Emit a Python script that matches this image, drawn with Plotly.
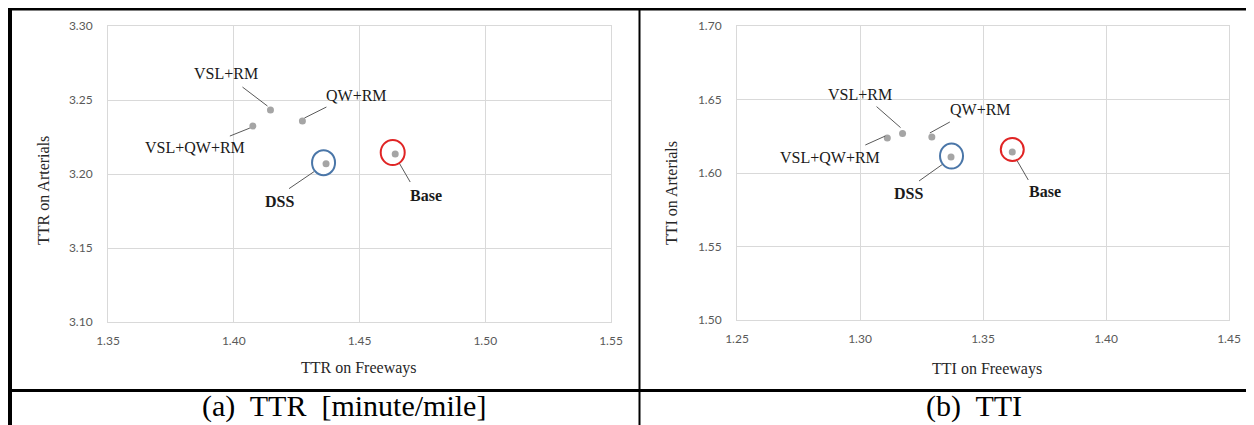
import plotly.graph_objects as go

# target screenshot size and the page's default body margin
W, H = 1254, 425
OX, OY = 8, 8
FW, FH = W - OX, H - OY   # figure size so that it fits the window exactly

# ---------------- data ----------------
scenarios = ["VSL+RM", "QW+RM", "VSL+QW+RM", "DSS", "Base"]
ttr_freeways = [1.4146, 1.4273, 1.4076, 1.4367, 1.4642]
ttr_arterials = [3.2432, 3.2358, 3.2324, 3.2070, 3.2135]
tti_freeways = [1.3173, 1.3292, 1.3111, 1.3370, 1.3619]
tti_arterials = [1.6268, 1.6245, 1.6238, 1.6109, 1.6143]

x_ticks_a = [1.35, 1.40, 1.45, 1.50, 1.55]
y_ticks_a = [3.10, 3.15, 3.20, 3.25, 3.30]
x_ticks_b = [1.25, 1.30, 1.35, 1.40, 1.45]
y_ticks_b = [1.50, 1.55, 1.60, 1.65, 1.70]

bold_labels = ["DSS", "Base"]

# ---------------- styling / layout (pixel offsets, screen y-down) ----------------
SERIF = "Liberation Serif, Times New Roman, serif"
TICKFONT = dict(family="Lato, Open Sans, sans-serif", size=12, color="#595959")
GRID = "#d9d9d9"

panels = [
    dict(xs=ttr_freeways, ys=ttr_arterials, xt=x_ticks_a, yt=y_ticks_a,
         dom=(108, 611, 26, 322), xtitle="TTR on Freeways", xtitle_pos=(359, 368),
         ytitle="TTR on Arterials", ytitle_pos=(44, 191),
         caption="(a)  TTR  [minute/mile]", caption_x=344,
         label_off={"VSL+RM": (-44, -37), "QW+RM": (54, -26), "VSL+QW+RM": (-58, 21),
                    "DSS": (-47, 38), "Base": (31, 41)},
         line_off={"VSL+RM": (-28, -23, -3, -4), "QW+RM": (24, -14, 2, -3),
                   "VSL+QW+RM": (-23, 10, -3, 2), "DSS": (-37, 25, -12, 8),
                   "Base": (15, 28, 4, 9)},
         circles={"DSS": (-2.5, -1, 11.5, 12.5, "#4a76a8"),
                  "Base": (-2.5, -1.5, 12, 12.5, "#e02424")}),
    dict(xs=tti_freeways, ys=tti_arterials, xt=x_ticks_b, yt=y_ticks_b,
         dom=(737, 1229, 26, 320), xtitle="TTI on Freeways", xtitle_pos=(987, 369),
         ytitle="TTI on Arterials", ytitle_pos=(671, 193),
         caption="(b)  TTI", caption_x=974,
         label_off={"VSL+RM": (-43, -39), "QW+RM": (49, -27), "VSL+QW+RM": (-57, 19),
                    "DSS": (-43, 37), "Base": (33, 40)},
         line_off={"VSL+RM": (-26, -27, -2, -6), "QW+RM": (18, -15, -2, -4),
                   "VSL+QW+RM": (-22, 7, -2, -2), "DSS": (-32, 24, -8, 7),
                   "Base": (16, 28, 5, 9)},
         circles={"DSS": (0.5, -1, 11.5, 12.5, "#4a76a8"),
                  "Base": (0, -2.5, 11.5, 11.5, "#e02424")}),
]


def px(x):
    return (x - OX) / FW


def py(y):
    return 1 - (y - OY) / FH


fig = go.Figure()
shapes = []
annotations = []

for i, p in enumerate(panels, start=1):
    xa = "x" if i == 1 else f"x{i}"
    ya = "y" if i == 1 else f"y{i}"
    fig.add_trace(go.Scatter(
        x=p["xs"], y=p["ys"], mode="markers", xaxis=xa, yaxis=ya,
        marker=dict(color="#a5a5a5", size=7), showlegend=False,
        text=scenarios, hoverinfo="text+x+y"))

    l, r, t, b = p["dom"]
    axkw = dict(showgrid=True, gridcolor=GRID, gridwidth=1, zeroline=False,
                showline=True, mirror=True, linecolor=GRID, linewidth=1,
                ticks="", tickfont=TICKFONT, tickformat=".2f", automargin=False)
    xname = "xaxis" if i == 1 else f"xaxis{i}"
    yname = "yaxis" if i == 1 else f"yaxis{i}"
    fig.update_layout({
        xname: dict(axkw, domain=[px(l), px(r)], range=[p["xt"][0], p["xt"][-1]],
                    tickvals=p["xt"], anchor=ya, ticklabelstandoff=8),
        yname: dict(axkw, domain=[py(b), py(t)], range=[p["yt"][0], p["yt"][-1]],
                    tickvals=p["yt"], anchor=xa, ticklabelstandoff=12),
    })

    for name, xv, yv in zip(scenarios, p["xs"], p["ys"]):
        dx, dy = p["label_off"][name]
        bold = name in bold_labels
        annotations.append(dict(
            x=xv, y=yv, xref=xa, yref=ya, xshift=dx, yshift=-dy, showarrow=False,
            text=f"<b>{name}</b>" if bold else name,
            font=dict(family=SERIF, size=16, color="#1a1a1a"),
            xanchor="center", yanchor="middle"))
        x0, y0, x1, y1 = p["line_off"][name]
        shapes.append(dict(
            type="line", xref=xa, yref=ya, xsizemode="pixel", ysizemode="pixel",
            xanchor=xv, yanchor=yv, x0=x0, x1=x1, y0=-y0, y1=-y1,
            line=dict(color="#595959", width=1)))
        if name in p["circles"]:
            cx, cy, rx, ry, col = p["circles"][name]
            shapes.append(dict(
                type="circle", xref=xa, yref=ya, xsizemode="pixel", ysizemode="pixel",
                xanchor=xv, yanchor=yv, x0=cx - rx, x1=cx + rx, y0=-cy - ry, y1=-cy + ry,
                line=dict(color=col, width=2)))

    tx, ty = p["xtitle_pos"]
    annotations.append(dict(x=px(tx), y=py(ty), xref="paper", yref="paper",
                            text=p["xtitle"], showarrow=False,
                            font=dict(family=SERIF, size=16, color="#262626"),
                            xanchor="center", yanchor="middle"))
    tx, ty = p["ytitle_pos"]
    annotations.append(dict(x=px(tx), y=py(ty), xref="paper", yref="paper",
                            text=p["ytitle"], showarrow=False, textangle=-90,
                            font=dict(family=SERIF, size=16, color="#262626"),
                            xanchor="center", yanchor="middle"))
    annotations.append(dict(x=px(p["caption_x"]), y=py(406), xref="paper", yref="paper",
                            text=p["caption"], showarrow=False,
                            font=dict(family=SERIF, size=30, color="#000000"),
                            xanchor="center", yanchor="middle"))

# table frame (reference pixel coordinates)
frame = [
    (8, 9, W, 9, 3),          # top
    (10, 8, 10, H, 4),        # left
    (639.5, 8, 639.5, H, 2),  # middle divider
    (10, 390.5, W, 390.5, 3),  # caption separator
]
for x0, y0, x1, y1, w in frame:
    shapes.append(dict(type="line", xref="paper", yref="paper",
                       x0=px(x0), y0=py(y0), x1=px(x1), y1=py(y1),
                       line=dict(color="#000000", width=w)))

fig.update_layout(
    width=FW, height=FH, autosize=False,
    margin=dict(l=0, r=0, t=0, b=0, pad=0, autoexpand=False),
    paper_bgcolor="white", plot_bgcolor="white",
    shapes=shapes, annotations=annotations, showlegend=False,
)

fig.write_html("out.html")
